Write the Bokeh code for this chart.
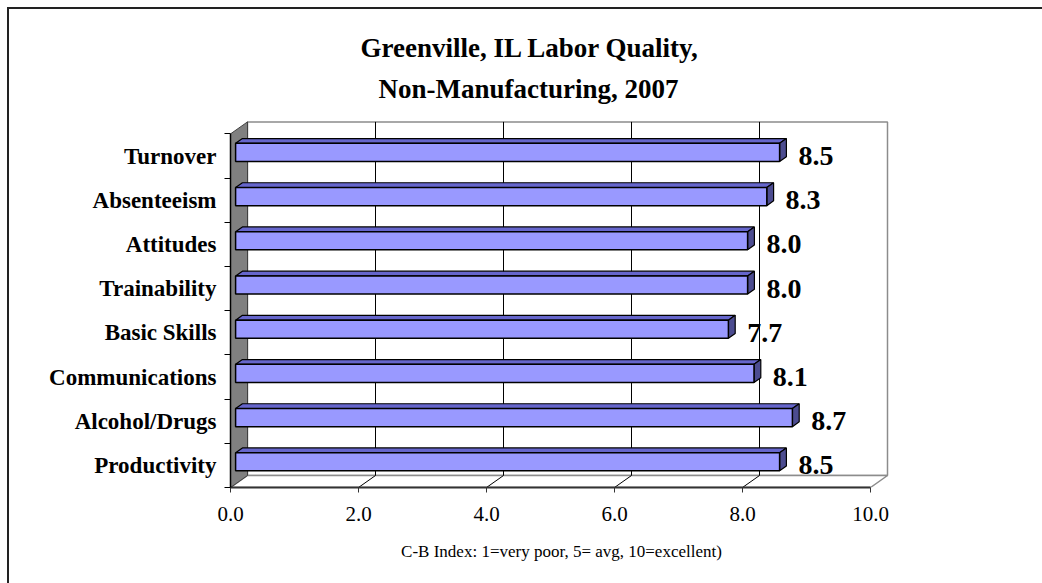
from bokeh.plotting import figure
from bokeh.models import (Range1d, FixedTicker, PrintfTickFormatter, Title,
                          ColumnDataSource)
from bokeh.core.properties import value
from bokeh.embed import file_html
from bokeh.resources import INLINE

# ---------------- data ----------------
categories = ["Productivity", "Alcohol/Drugs", "Communications", "Basic Skills",
              "Trainability", "Attitudes", "Absenteeism", "Turnover"]
scores = [8.5, 8.7, 8.1, 7.7, 8.0, 8.0, 8.3, 8.5]
x_ticks = [0, 2, 4, 6, 8, 10]
title_lines = ["Greenville, IL Labor Quality,", "Non-Manufacturing, 2007"]
x_title = "C-B Index: 1=very poor, 5= avg, 10=excellent)"

# ---------------- geometry / style ----------------
FONT = "Liberation Serif"
PX_X = 64.0          # pixels per index unit
PX_Y = 44.2          # pixels per category band
DX = 17.0 / PX_X     # 3-D depth offset (x)
DY = 12.0 / PX_Y     # 3-D depth offset (y)
n = len(categories)
x_max = x_ticks[-1]
FRONT, BACK = 0.3, 0.7   # bar depth fractions
HALF = 0.205             # half bar thickness (band units)

W, H = 1042, 583
left_b, right_b, top_b, bot_b = 230, 150, 118, 96
frame_w = W - left_b - right_b
frame_h = H - top_b - bot_b

p = figure(width=W, height=H,
           x_range=Range1d(0, frame_w / PX_X), y_range=Range1d(0, frame_h / PX_Y),
           min_border_left=left_b, min_border_right=right_b,
           min_border_top=top_b, min_border_bottom=bot_b,
           output_backend="svg", toolbar_location=None)
p.grid.visible = False
p.outline_line_color = None
p.background_fill_color = "white"
p.border_fill_color = None
# chart-area border: top and left edges (the rest lies outside the window)
p.styles = {
    "background": ("linear-gradient(#222222, #222222) 7px 7px / 100% 2px no-repeat, "
                   "linear-gradient(#222222, #222222) 7px 7px / 2px 100% no-repeat, "
                   "white"),
}

# back wall
p.quad(left=DX, right=x_max + DX, bottom=DY, top=n + DY,
       fill_color="white", line_color="#8c8c8c", line_width=1.5)
# floor
p.patch([0, x_max, x_max + DX, DX], [0, 0, DY, DY],
        fill_color="white", line_color="#8c8c8c", line_width=1.5)
# gridlines on back wall and floor
inner = x_ticks[1:-1]
p.segment(x0=[t + DX for t in inner], y0=[DY] * len(inner),
          x1=[t + DX for t in inner], y1=[n + DY] * len(inner),
          line_color="black", line_width=1)
p.segment(x0=inner, y0=[0] * len(inner),
          x1=[t + DX for t in inner], y1=[DY] * len(inner),
          line_color="black", line_width=1)
# left side wall
p.patch([0, DX, DX, 0], [0, DY, n + DY, n],
        fill_color="#808080", line_color="#404040", line_width=1)

# bars
centers = [i + 0.5 for i in range(n)]
fl = [FRONT * DX] * n
fr = [v + FRONT * DX for v in scores]
fb = [c - HALF + FRONT * DY for c in centers]
ft = [c + HALF + FRONT * DY for c in centers]

top_xs, top_ys, side_xs, side_ys = [], [], [], []
for v, c in zip(scores, centers):
    t = c + HALF
    b = c - HALF
    top_xs.append([FRONT * DX, v + FRONT * DX, v + BACK * DX, BACK * DX])
    top_ys.append([t + FRONT * DY, t + FRONT * DY, t + BACK * DY, t + BACK * DY])
    side_xs.append([v + FRONT * DX, v + FRONT * DX, v + BACK * DX, v + BACK * DX])
    side_ys.append([b + FRONT * DY, t + FRONT * DY, t + BACK * DY, b + BACK * DY])

p.patches(top_xs, top_ys, fill_color="#6666cc", line_color="black", line_width=1.2)
p.patches(side_xs, side_ys, fill_color="#4c4c90", line_color="black", line_width=1.2)
p.quad(left=fl, right=fr, bottom=fb, top=ft,
       fill_color="#9999ff", line_color="black", line_width=1.5)

# value labels
lab_src = ColumnDataSource(dict(
    x=[v + BACK * DX + 12.0 / PX_X for v in scores],
    y=centers,
    t=["%.1f" % v for v in scores]))
p.text(x="x", y="y", text="t", source=lab_src,
       text_font=value(FONT), text_font_style="bold", text_font_size="28px",
       text_align="left", text_baseline="middle", text_color="black")

# x axis
xa = p.xaxis[0]
xa.ticker = FixedTicker(ticks=x_ticks, minor_ticks=[])
xa.formatter = PrintfTickFormatter(format="%.1f")
xa.bounds = (0, x_max)
xa.axis_line_color = "#333333"
xa.axis_line_width = 2
xa.major_tick_line_color = "#333333"
xa.major_tick_out = 5
xa.major_tick_in = 0
xa.minor_tick_line_color = None
xa.major_label_standoff = 14
xa.major_label_text_font = FONT
xa.major_label_text_font_size = "21px"
xa.major_label_text_color = "black"
xa.axis_label = x_title
xa.axis_label_text_font = FONT
xa.axis_label_text_font_size = "17px"
xa.axis_label_text_font_style = "normal"
xa.axis_label_text_color = "black"
xa.axis_label_standoff = 18

# y axis
ya = p.yaxis[0]
ya.ticker = FixedTicker(ticks=centers, minor_ticks=list(range(n + 1)))
ya.major_label_overrides = {c: name for c, name in zip(centers, categories)}
ya.bounds = (0, n)
ya.axis_line_color = "black"
ya.axis_line_width = 1.5
ya.major_tick_line_color = None
ya.major_tick_out = 0
ya.major_tick_in = 0
ya.minor_tick_line_color = "black"
ya.minor_tick_out = 6
ya.minor_tick_in = 0
ya.major_label_standoff = 8
ya.major_label_text_font = FONT
ya.major_label_text_font_size = "23px"
ya.major_label_text_font_style = "bold"
ya.major_label_text_color = "black"

# title (two lines; the one added first sits nearest the plot)
for txt, sb, off in zip(reversed(title_lines), [29, -10], [148, 130]):
    p.add_layout(Title(text=txt, align="left", offset=off, standoff=sb,
                       text_font=FONT, text_font_size="27px",
                       text_font_style="bold", text_color="black"), "above")

open("out.html", "w").write(file_html(p, INLINE))
